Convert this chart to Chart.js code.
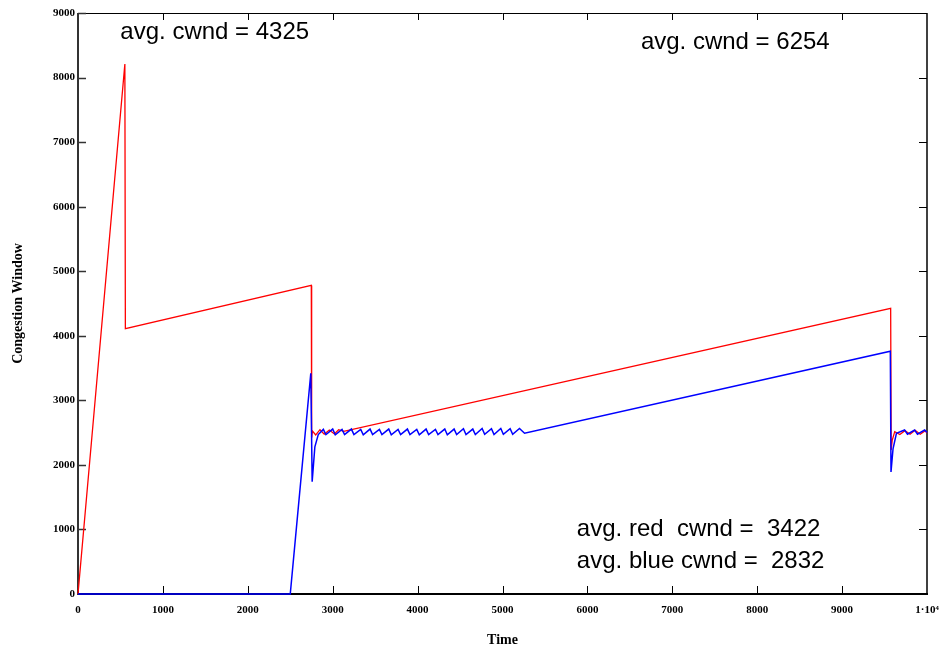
<!DOCTYPE html>
<html>
<head>
<meta charset="utf-8">
<title>Congestion Window</title>
<script src="https://cdn.jsdelivr.net/npm/chart.js@4.4.1/dist/chart.umd.min.js"></script>
<style>
  html, body { margin: 0; padding: 0; background: #fff; }
  #wrap { width: 941px; height: 650px; position: relative; }
</style>
</head>
<body>
<div id="wrap"><canvas id="cwnd"></canvas></div>
<script>
// Red flow: slow start, halving at ~555, linear growth, loss at 2750, long ramp, loss at 9575
const redTime = [0, 552, 558, 2748, 2752, 2762, 2800, 2850, 2900, 2960, 3020, 3070, 3130,
  9572, 9578, 9590, 9620, 9680, 9740, 9800, 9860, 9920, 9980, 10000];
const redCwnd = [0, 8210, 4110, 4780, 2420, 2525, 2465, 2545, 2475, 2540, 2480, 2545, 2520,
  4425, 2230, 2380, 2515, 2470, 2530, 2475, 2535, 2475, 2530, 2490];

// Blue flow: idle until 2500, ramp, drop, sawtooth around 2500, ramp, drop, sawtooth
const blueTime = [0, 2500, 2742, 2758, 2790, 2830,
  2890, 2920, 3000, 3030, 3110, 3140, 3220, 3250, 3330, 3360, 3440, 3470, 3550, 3580,
  3660, 3690, 3770, 3800, 3880, 3910, 3990, 4020, 4100, 4130, 4210, 4240, 4320, 4350,
  4430, 4460, 4540, 4570, 4650, 4680, 4760, 4790, 4870, 4900, 4980, 5010, 5090, 5120,
  5200, 5260,
  9568, 9576, 9600, 9640, 9736, 9770, 9854, 9888, 9972, 10000];
const blueCwnd = [0, 0, 3420, 1740, 2280, 2470,
  2550, 2470, 2555, 2465, 2550, 2470, 2555, 2470, 2550, 2465, 2555, 2470, 2550, 2470,
  2555, 2465, 2550, 2470, 2555, 2470, 2550, 2465, 2555, 2470, 2550, 2470, 2555, 2465,
  2555, 2470, 2560, 2470, 2555, 2470, 2565, 2475, 2560, 2470, 2565, 2475, 2560, 2475,
  2565, 2490,
  3760, 1890, 2250, 2490, 2540, 2475, 2540, 2475, 2540, 2500];

const xTicks = [0, 1000, 2000, 3000, 4000, 5000, 6000, 7000, 8000, 9000, 10000];
const yTicks = [0, 1000, 2000, 3000, 4000, 5000, 6000, 7000, 8000, 9000];

// annotation text anchored in data units (left edge, vertical middle)
const notes = [
  { text: 'avg. cwnd = 4325', x: 499, y: 8700 },
  { text: 'avg. cwnd = 6254', x: 6630, y: 8545 },
  { text: 'avg. red  cwnd =  3422', x: 5876, y: 1006 },
  { text: 'avg. blue cwnd =  2832', x: 5876, y: 511 }
];

const toPoints = (xs, ys) => xs.map((x, i) => ({ x, y: ys[i] }));

const tickFont = { family: '"Liberation Serif", "Times New Roman", serif', size: 11, weight: 'bold' };
const titleFont = { family: '"Liberation Serif", "Times New Roman", serif', size: 14, weight: 'bold' };

// Mathcad-style frame: full box with inward ticks, plus the text notes
const framePlugin = {
  id: 'frame',
  beforeDatasetsDraw(chart) {
    const { ctx, chartArea: a, scales: { x, y } } = chart;
    ctx.save();
    ctx.lineCap = 'butt';

    ctx.strokeStyle = '#000';
    ctx.lineWidth = 1;
    ctx.beginPath();
    ctx.moveTo(a.left, a.top + 0.5); ctx.lineTo(a.right, a.top + 0.5);
    ctx.stroke();
    ctx.lineWidth = 1.5;
    ctx.beginPath();
    ctx.moveTo(a.right, a.top); ctx.lineTo(a.right, a.bottom);
    ctx.stroke();

    ctx.lineWidth = 1;
    xTicks.slice(1, -1).forEach(v => {
      const px = Math.round(x.getPixelForValue(v)) + 0.5;
      ctx.beginPath();
      ctx.moveTo(px, a.bottom); ctx.lineTo(px, a.bottom - 8);
      ctx.moveTo(px, a.top); ctx.lineTo(px, a.top + 7);
      ctx.stroke();
    });
    yTicks.slice(1).forEach(v => {
      const py = Math.round(y.getPixelForValue(v)) + 0.5;
      ctx.strokeStyle = '#333';
      ctx.lineWidth = 1.5;
      ctx.beginPath();
      ctx.moveTo(a.left, py); ctx.lineTo(a.left + 8, py);
      ctx.stroke();
      ctx.strokeStyle = '#000';
      ctx.lineWidth = 1;
      ctx.beginPath();
      ctx.moveTo(a.right, py); ctx.lineTo(a.right - 8, py);
      ctx.stroke();
    });

    ctx.strokeStyle = '#333';
    ctx.lineWidth = 2;
    ctx.beginPath();
    ctx.moveTo(a.left, a.top); ctx.lineTo(a.left, a.bottom + 1);
    ctx.stroke();
    ctx.strokeStyle = '#000';
    ctx.beginPath();
    ctx.moveTo(a.left, a.bottom); ctx.lineTo(a.right + 1, a.bottom);
    ctx.stroke();
    ctx.restore();
  },
  afterDraw(chart) {
    const { ctx, scales: { x, y } } = chart;
    ctx.save();
    ctx.fillStyle = '#000';
    ctx.font = '24px "Liberation Sans", Arial, sans-serif';
    ctx.textAlign = 'left';
    ctx.textBaseline = 'middle';
    notes.forEach(n => {
      ctx.fillText(n.text, x.getPixelForValue(n.x), y.getPixelForValue(n.y));
    });
    ctx.restore();
  }
};

new Chart(document.getElementById('cwnd'), {
  type: 'line',
  data: {
    datasets: [
      {
        label: 'blue',
        data: toPoints(blueTime, blueCwnd),
        borderColor: '#0000ff',
        borderWidth: 1.5,
        pointRadius: 0,
        tension: 0,
        clip: false
      },
      {
        label: 'red',
        data: toPoints(redTime, redCwnd),
        borderColor: '#ff0000',
        borderWidth: 1.3,
        pointRadius: 0,
        tension: 0,
        clip: false
      }
    ]
  },
  options: {
    responsive: true,
    maintainAspectRatio: false,
    animation: false,
    layout: { padding: { top: 13, right: 14, bottom: 1, left: 0 } },
    plugins: {
      legend: { display: false },
      tooltip: { enabled: false }
    },
    scales: {
      x: {
        type: 'linear',
        min: 0,
        max: 10000,
        afterFit: s => { s.height = 55; s.paddingLeft = 0; s.paddingRight = 0; },
        afterBuildTicks: s => { s.ticks = xTicks.map(v => ({ value: v })); },
        grid: { display: false, drawTicks: false },
        border: { display: false },
        ticks: {
          autoSkip: false,
          maxRotation: 0,
          padding: 10,
          color: '#000',
          font: tickFont,
          callback: v => (v === 10000 ? '1\u00b710\u2074' : String(v))
        },
        title: { display: true, text: 'Time', color: '#000', font: titleFont, padding: { top: 0, bottom: 0 } }
      },
      y: {
        type: 'linear',
        min: 0,
        max: 9000,
        afterFit: s => { s.width = 78; s.paddingTop = 0; s.paddingBottom = 0; },
        afterBuildTicks: s => { s.ticks = yTicks.map(v => ({ value: v })); },
        grid: { display: false, drawTicks: false },
        border: { display: false },
        ticks: {
          autoSkip: false,
          padding: 3,
          color: '#000',
          font: tickFont,
          callback: v => String(v)
        },
        title: { display: true, text: 'Congestion Window', color: '#000', font: titleFont, padding: { top: 10, bottom: 0 } }
      }
    }
  },
  plugins: [framePlugin]
});
</script>
</body>
</html>
